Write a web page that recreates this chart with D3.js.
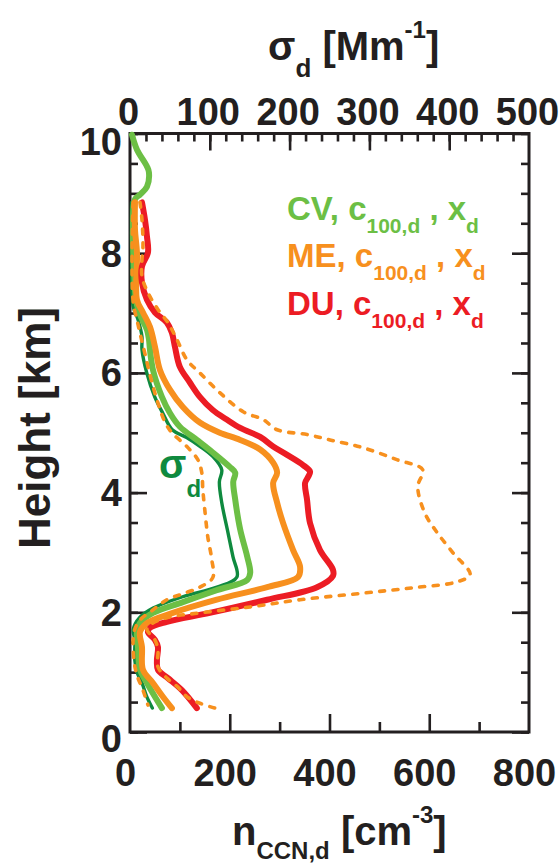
<!DOCTYPE html>
<html><head><meta charset="utf-8">
<script src="https://cdn.jsdelivr.net/npm/d3@7"></script>
<style>
body{margin:0;background:#fff}
text{font-family:"Liberation Sans",Arial,Helvetica,sans-serif;font-weight:bold;fill:#231f20}
</style>
</head><body>
<svg id="c" width="560" height="865"></svg>
<script>
// ---- tick labels ----
const heightTicks=[0,2,4,6,8,10];
const nccnTicks=[0,200,400,600,800];
const sigmaTicks=[0,100,200,300,400,500];

// ---- CV (light green), n_CCN,d [cm-3] ----
const cvH=[9.98,9.73,9.45,9.35,9.11,8.98,8.90,8.39,7.73,7.22,6.97,6.72,6.56,6.39,6.05,5.60,5.33,5.10,4.88,4.67,4.43,4.33,4.18,3.88,3.38,2.93,2.66,2.54,2.37,2.17,1.99,1.82,1.66,1.42,1.04,0.82,0.59,0.40];
const cvN=[4,14,34,38,34,20,10,6,8,12,20,34,38,40,46,64,80,100,134,166,200,211,207,211,221,235,241,235,174,106,46,20,14,16,20,34,50,64];

// ---- ME (orange), n_CCN,d ----
const meH=[8.85,8.39,8.01,7.22,7.01,6.77,6.44,6.05,5.72,5.43,5.17,5.00,4.88,4.72,4.50,4.33,4.16,3.83,3.49,3.04,2.76,2.59,2.42,2.21,1.99,1.82,1.67,1.42,1.04,0.82,0.59,0.40];
const meN=[10,10,14,14,26,40,50,60,80,106,140,180,221,261,287,295,287,295,307,327,341,337,275,174,86,34,20,24,26,46,66,84];

// ---- DU (red), n_CCN,d ----
const duH=[8.85,8.56,8.28,8.01,7.78,7.51,7.22,7.01,6.84,6.67,6.44,6.10,5.84,5.60,5.38,5.22,5.08,4.93,4.77,4.63,4.46,4.35,4.26,4.16,3.88,3.49,3.04,2.71,2.61,2.42,2.21,1.99,1.84,1.74,1.67,1.54,1.42,1.20,1.04,0.90,0.70,0.40];
const duN=[24,30,34,36,24,24,34,50,74,84,90,100,120,140,166,194,221,261,287,315,347,361,357,351,355,361,381,407,407,375,275,160,74,40,36,50,56,54,56,76,104,134];

// ---- sigma_d (dark green), [Mm-1], top axis ----
const sigH=[8.85,8.06,7.11,6.89,6.61,6.39,6.00,5.60,5.33,5.05,4.92,4.77,4.60,4.38,4.18,3.83,3.38,2.93,2.59,2.42,2.26,2.07,1.91,1.71,1.54,1.20,0.99,0.82,0.59,0.40];
const sigV=[2,2,4,10,15,15,21,31,41,53,71,88,104,115,112,115,122,129,134,109,66,29,12,4,6,6,9,15,21,28];

// ---- ME dashed envelopes, n_CCN,d ----
const meHiH=[8.85,8.56,8.11,7.89,7.61,7.34,7.06,6.84,6.56,6.22,6.00,5.67,5.35,5.22,5.05,4.97,4.88,4.75,4.55,4.38,4.10,3.66,3.33,2.99,2.63,2.51,2.41,2.32,2.21,2.09,1.99,1.91,1.79,1.71,1.54,1.37,1.09,0.90,0.75,0.59,0.48,0.40];
const meHiN=[20,24,26,24,24,36,56,76,94,114,140,180,227,267,295,355,401,467,535,587,577,591,616,648,682,656,567,467,341,241,140,74,40,34,50,56,56,74,96,114,140,170];
const meLoH=[8.85,7.22,6.81,6.39,5.97,5.55,5.18,5.00,4.77,4.55,4.33,4.05,3.71,3.26,2.88,2.58,2.42,2.31,2.21,2.04,1.87,1.67,1.20,0.95,0.70,0.45];
const meLoN=[6,6,16,28,40,54,70,84,114,136,144,146,150,156,164,166,140,106,74,46,20,8,8,14,26,36];

const L=130,R=529,T=133.5,B=732;
const ink="#231f20";
const svg=d3.select("#c");
const y=d3.scaleLinear().domain([0,10]).range([B,T]);
const xN=d3.scaleLinear().domain([0,800]).range([L,R]);
const xS=d3.scaleLinear().domain([0,500]).range([L,R]);

function styleAxis(g){
  g.select(".domain").remove();
  g.selectAll(".tick line").attr("stroke",ink).attr("stroke-width",2.6);
  g.selectAll(".tick text").attr("font-size",38).attr("fill",ink)
   .attr("font-family",'"Liberation Sans",Arial,sans-serif').attr("font-weight","bold");
}
// left
svg.append("g").attr("transform",`translate(${L},0)`)
  .call(d3.axisLeft(y).tickValues(d3.range(0,10.001,0.5)).tickSize(-8).tickFormat("")).call(styleAxis);
const lg=svg.append("g").attr("transform",`translate(${L},0)`)
  .call(d3.axisLeft(y).tickValues(heightTicks).tickSize(-17).tickPadding(8)).call(styleAxis);
lg.selectAll(".tick text").attr("dy",d=>d===10?"0.55em":(d===0?"0.52em":"0.34em"));
// right
svg.append("g").attr("transform",`translate(${R},0)`)
  .call(d3.axisRight(y).tickValues(d3.range(0,10.001,0.5)).tickSize(-8).tickFormat("")).call(styleAxis);
svg.append("g").attr("transform",`translate(${R},0)`)
  .call(d3.axisRight(y).tickValues(heightTicks).tickSize(-17).tickFormat("")).call(styleAxis);
// bottom
svg.append("g").attr("transform",`translate(0,${B})`)
  .call(d3.axisBottom(xN).tickValues(d3.range(100,800,200)).tickSize(-10).tickFormat("")).call(styleAxis);
const bg=svg.append("g").attr("transform",`translate(0,${B})`)
  .call(d3.axisBottom(xN).tickValues(nccnTicks).tickSize(-18).tickPadding(27)).call(styleAxis);
bg.selectAll(".tick text").attr("dx",-5);
bg.selectAll(".tick line").filter(d=>d===0||d===800).remove();
// top
svg.append("g").attr("transform",`translate(0,${T})`)
  .call(d3.axisTop(xS).tickValues(d3.range(20,500,20)).tickSize(-8).tickFormat("")).call(styleAxis);
const tg=svg.append("g").attr("transform",`translate(0,${T})`)
  .call(d3.axisTop(xS).tickValues(sigmaTicks).tickSize(-17).tickPadding(9)).call(styleAxis);
tg.selectAll(".tick line").filter(d=>d===0||d===500).remove();
tg.selectAll(".tick text").attr("dx",-2);

// frame
svg.append("rect").attr("x",L).attr("y",T).attr("width",R-L).attr("height",B-T)
  .attr("fill","none").attr("stroke",ink).attr("stroke-width",3);

// lines
const pts=(hs,vs)=>hs.map((h,i)=>[h,vs[i]]);
const lineN=d3.line().x(d=>xN(d[1])).y(d=>y(d[0])).curve(d3.curveCatmullRom.alpha(0.5));
const lineS=d3.line().x(d=>xS(d[1])).y(d=>y(d[0])).curve(d3.curveCatmullRom.alpha(0.5));
const pg=svg.append("g");
const solid=(d,col,w)=>pg.append("path").attr("d",d).attr("fill","none").attr("stroke",col)
  .attr("stroke-width",w).attr("stroke-linejoin","round").attr("stroke-linecap","round");
solid(lineS(pts(sigH,sigV)),"#0f8a3f",3.4);
solid(lineN(pts(cvH,cvN)),"#6cbf45",6);
solid(lineN(pts(meH,meN)),"#f7901e",6);
solid(lineN(pts(duH,duN)),"#ec1c24",6);
[pts(meHiH,meHiN),pts(meLoH,meLoN)].forEach(p=>{
  solid(lineN(p),"#f7901e",3.6).attr("stroke-dasharray","5,8.5");
});

// legend
const leg=[["CV","#6cbf45",220],["ME","#f7901e",267],["DU","#ec1c24",315]];
leg.forEach(([lab,col,by])=>{
  const t=svg.append("text").attr("x",287).attr("y",by).attr("font-size",33).style("fill",col);
  t.append("tspan").text(lab+", c");
  t.append("tspan").attr("font-size",21).attr("dy",13).text("100,d");
  t.append("tspan").attr("dy",-13).text(" , x");
  t.append("tspan").attr("font-size",21).attr("dy",13).text("d");
});
// sigma annotation
const sa=svg.append("text").attr("x",159).attr("y",478).attr("font-size",40).style("fill","#0f8a3f");
sa.append("tspan").text("σ");
sa.append("tspan").attr("font-size",24).attr("dy",19).text("d");

// axis titles
const tt=svg.append("text").attr("x",268).attr("y",60).attr("font-size",40);
tt.append("tspan").text("σ");
tt.append("tspan").attr("font-size",26).attr("dy",17).text("d");
tt.append("tspan").attr("dy",-17).text(" [Mm");
tt.append("tspan").attr("font-size",24).attr("dy",-22).text("-1");
tt.append("tspan").attr("dy",22).text("]");

const bt=svg.append("text").attr("x",232).attr("y",845).attr("font-size",40);
bt.append("tspan").text("n");
bt.append("tspan").attr("font-size",24).attr("dy",14).text("CCN,d");
bt.append("tspan").attr("dy",-14).text(" [cm");
bt.append("tspan").attr("font-size",24).attr("dy",-22).text("-3");
bt.append("tspan").attr("dy",22).text("]");

svg.append("text").attr("transform","translate(50,428) rotate(-90)").attr("text-anchor","middle")
  .attr("font-size",44).text("Height [km]");
</script>
</body></html>
